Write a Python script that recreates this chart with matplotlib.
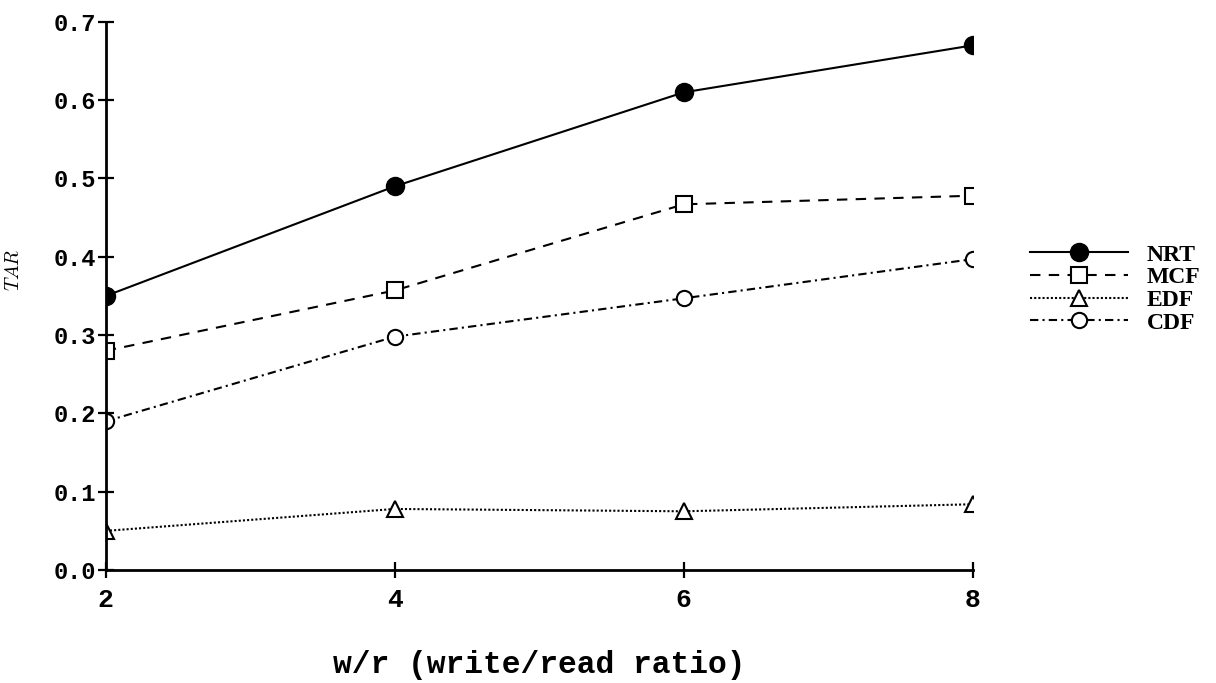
import matplotlib
matplotlib.use("Agg")
import matplotlib.pyplot as plt
from matplotlib.font_manager import FontProperties

x = [2, 4, 6, 8]
nrt = [0.35, 0.49, 0.61, 0.67]
mcf = [0.28, 0.357, 0.467, 0.478]
edf = [0.05, 0.078, 0.075, 0.084]
cdf = [0.19, 0.298, 0.347, 0.397]
xticks = [2, 4, 6, 8]
yticks = [0.0, 0.1, 0.2, 0.3, 0.4, 0.5, 0.6, 0.7]

plt.rcParams["mathtext.fontset"] = "cm"

fig = plt.figure(figsize=(12.16, 6.83), dpi=100)
ax = fig.add_axes([0.087, 0.1654, 0.713, 0.8026])

lw = 1.5
ax.plot(x, nrt, color="black", lw=lw, ls="-", marker="o", ms=13,
        mfc="black", mec="black", label="NRT")
ax.plot(x, mcf, color="black", lw=lw, ls=(0, (5, 4)), marker="s", ms=11,
        mfc="white", mec="black", mew=1.5, label="MCF")
ax.plot(x, edf, color="black", lw=lw, ls=(0, (1, 1)), marker="^", ms=11,
        mfc="white", mec="black", mew=1.5, label="EDF")
ax.plot(x, cdf, color="black", lw=lw, ls=(0, (4, 2, 1, 2)), marker="o", ms=11,
        mfc="white", mec="black", mew=1.5, label="CDF")

ax.set_xlim(2, 8)
ax.set_ylim(0, 0.7)
ax.set_xticks(xticks)
ax.set_yticks(yticks)
ax.set_xticklabels([str(v) for v in xticks])
ax.set_yticklabels([f"{v:.1f}" for v in yticks])

for s in ["top", "right"]:
    ax.spines[s].set_visible(False)
for s in ["left", "bottom"]:
    ax.spines[s].set_linewidth(2)

ax.tick_params(direction="inout", length=12, width=1.6, pad=1)
ax.tick_params(axis="x", pad=7)
for lab in ax.get_yticklabels():
    lab.set_fontproperties(FontProperties(family="Liberation Mono", weight="bold", size=17))
for lab in ax.get_xticklabels():
    lab.set_fontproperties(FontProperties(family="Liberation Mono", weight="bold", size=19))

ax.set_xlabel("w/r (write/read ratio)", family="Liberation Mono",
              weight="bold", size=22.5, labelpad=27)
ax.set_ylabel("$TAR$", size=14)
ax.yaxis.set_label_coords(-0.095, 0.547)

fig.legend(loc="center left", bbox_to_anchor=(0.847, 0.577), frameon=False,
           borderpad=0, borderaxespad=0, handlelength=4.15, handletextpad=0.8,
           labelspacing=0.05,
           prop=dict(family="Liberation Serif", weight="bold", size=17))

fig.savefig("out.png", dpi=100)
